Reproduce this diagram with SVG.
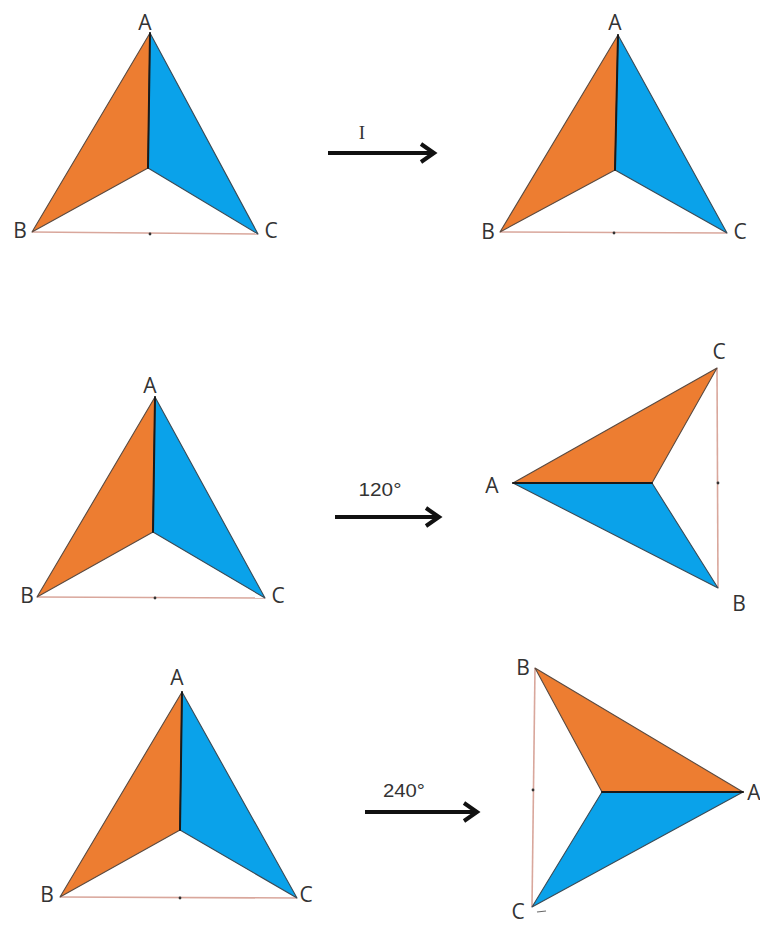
<svg xmlns="http://www.w3.org/2000/svg" width="760" height="926" viewBox="0 0 760 926">
<style>
.or{fill:#ED7D31;stroke:#5a4a40;stroke-width:1.1;stroke-linejoin:round}
.bl{fill:#0AA2EA;stroke:#3a4a55;stroke-width:1.1;stroke-linejoin:round}
.sp{stroke:#1a1a1a;stroke-width:2;stroke-linecap:round}
.base{stroke:#D9A79C;stroke-width:1.6}
.dot{fill:#333}
.lb{font-family:"Open Sans","Liberation Sans",sans-serif;font-size:21px;fill:#333;text-anchor:middle}
.ar{stroke:#111;stroke-width:4;fill:none}
.al{font-family:"Liberation Sans",sans-serif;font-size:19px;fill:#333;text-anchor:middle}
</style>
<rect width="760" height="926" fill="#fff"/>
<g id="fig-identity-before">
<line class="base" x1="32" y1="232" x2="258" y2="234"/>
<circle class="dot" cx="150" cy="234" r="1.4"/>
<polygon class="or" points="150,33 148,168 32,232"/>
<polygon class="bl" points="150,33 258,234 148,168"/>
<line class="sp" x1="150" y1="33" x2="148" y2="168"/>
<text class="lb" x="145" y="30">A</text>
<text class="lb" x="20" y="238">B</text>
<text class="lb" x="271" y="238">C</text>
</g>
<g id="fig-identity-after">
<line class="base" x1="500" y1="232" x2="727" y2="233"/>
<circle class="dot" cx="614" cy="233" r="1.4"/>
<polygon class="or" points="618,35 615,170 500,232"/>
<polygon class="bl" points="618,35 727,233 615,170"/>
<line class="sp" x1="618" y1="35" x2="615" y2="170"/>
<text class="lb" x="615" y="30">A</text>
<text class="lb" x="488" y="239">B</text>
<text class="lb" x="740" y="239">C</text>
</g>
<g id="fig-120-before">
<line class="base" x1="37" y1="597" x2="265" y2="598"/>
<circle class="dot" cx="155" cy="598" r="1.4"/>
<polygon class="or" points="155,397 153,532 37,597"/>
<polygon class="bl" points="155,397 265,598 153,532"/>
<line class="sp" x1="155" y1="397" x2="153" y2="532"/>
<text class="lb" x="150" y="393">A</text>
<text class="lb" x="27" y="603">B</text>
<text class="lb" x="278" y="603">C</text>
</g>
<g id="fig-120-after">
<line class="base" x1="717" y1="368" x2="718" y2="588"/>
<circle class="dot" cx="718" cy="483" r="1.4"/>
<polygon class="or" points="513,483 652,483 717,368"/>
<polygon class="bl" points="513,483 718,588 652,483"/>
<line class="sp" x1="513" y1="483" x2="652" y2="483"/>
<text class="lb" x="719" y="359">C</text>
<text class="lb" x="492" y="493">A</text>
<text class="lb" x="739" y="611">B</text>
</g>
<g id="fig-240-before">
<line class="base" x1="60" y1="897" x2="297" y2="898"/>
<circle class="dot" cx="180" cy="898" r="1.4"/>
<polygon class="or" points="182,692 180,830 60,897"/>
<polygon class="bl" points="182,692 297,898 180,830"/>
<line class="sp" x1="182" y1="692" x2="180" y2="830"/>
<text class="lb" x="177" y="685">A</text>
<text class="lb" x="47" y="902">B</text>
<text class="lb" x="306" y="902">C</text>
</g>
<g id="fig-240-after">
<line class="base" x1="535" y1="668" x2="532" y2="907"/>
<circle class="dot" cx="533" cy="790" r="1.4"/>
<polygon class="or" points="535,668 602,792 743,792"/>
<polygon class="bl" points="602,792 743,792 532,907"/>
<line class="sp" x1="602" y1="792" x2="743" y2="792"/>
<line x1="537" y1="912" x2="546" y2="911" stroke="#666" stroke-width="1.2"/>
<text class="lb" x="523" y="675">B</text>
<text class="lb" x="754" y="800">A</text>
<text class="lb" x="518" y="919">C</text>
</g>
<g id="connectors">
<g id="arrow-identity">
<line class="ar" x1="328" y1="153" x2="432" y2="153"/>
<polyline class="ar" points="421,144 434,153 421,162"/>
<text x="362" y="139" font-family="Liberation Serif,serif" font-size="19" fill="#333" text-anchor="middle">I</text>
</g>
<g id="arrow-120">
<line class="ar" x1="335" y1="517" x2="437" y2="517"/>
<polyline class="ar" points="426,508 439,517 426,526"/>
<text class="al" x="380" y="496" textLength="43" lengthAdjust="spacingAndGlyphs">120°</text>
</g>
<g id="arrow-240">
<line class="ar" x1="365" y1="812" x2="475" y2="812"/>
<polyline class="ar" points="464,803 477,812 464,821"/>
<text class="al" x="404" y="797" textLength="42" lengthAdjust="spacingAndGlyphs">240°</text>
</g>
</g>
</svg>
